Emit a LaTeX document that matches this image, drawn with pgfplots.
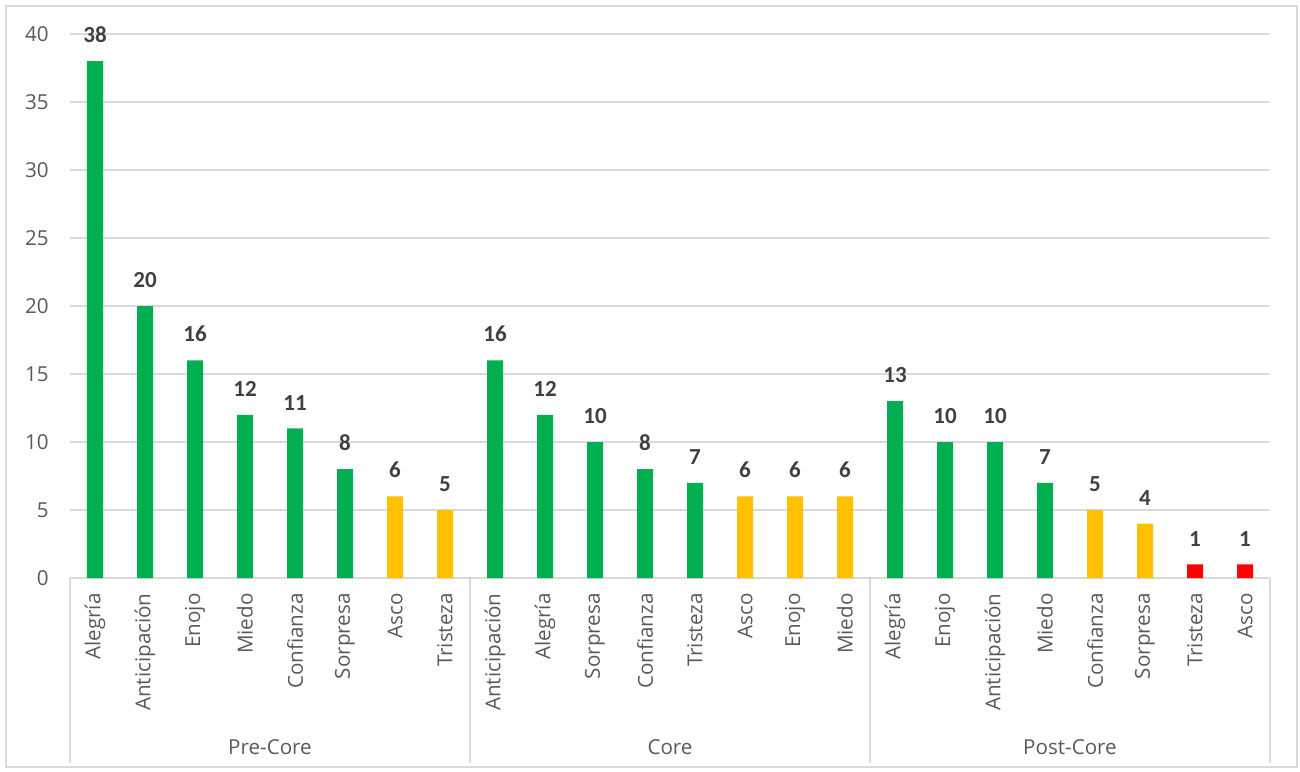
\documentclass[border=0pt]{standalone}
\usepackage{pgfplots}
\pgfplotsset{compat=1.18}
\usepackage{fontspec}
\setmainfont{Open Sans}
\newfontfamily\labelfont{Carlito}

\definecolor{bargreen}{HTML}{00B050}
\definecolor{barorange}{HTML}{FFC000}
\definecolor{barred}{HTML}{FF0000}
\definecolor{gridc}{HTML}{D9D9D9}
\definecolor{tickc}{HTML}{595959}
\definecolor{valc}{HTML}{404040}

\begin{document}
\begin{tikzpicture}
\begin{axis}[
  name=ax,
  scale only axis,
  width=600pt, height=272pt,
  xmin=0, xmax=24,
  ymin=0, ymax=40,
  /pgf/number format/assume math mode=true,
  ytick={0,5,...,40},
  xtick={0.5,1.5,...,23.5},
  xticklabels={Alegría,Anticipación,Enojo,Miedo,Confianza,Sorpresa,Asco,Tristeza,
               Anticipación,Alegría,Sorpresa,Confianza,Tristeza,Asco,Enojo,Miedo,
               Alegría,Enojo,Anticipación,Miedo,Confianza,Sorpresa,Tristeza,Asco},
  major tick length=0pt,
  ymajorgrids,
  grid style={gridc, line width=0.6pt},
  axis x line*=bottom,
  axis y line*=left,
  x axis line style={draw=gridc, line width=0.6pt, -},
  y axis line style={draw=none},
  tick label style={font=\fontsize{10.3}{12}\selectfont, text=tickc},
  yticklabel style={anchor=east, inner sep=0pt, xshift=-10.5pt},
  xticklabel style={rotate=90, anchor=east, inner sep=0pt, xshift=-7.5pt},
  ybar, bar width=8pt, bar shift=0pt,
  clip=false,
  nodes near coords,
  every node near coord/.append style={font=\labelfont\bfseries\fontsize{11.5}{13}\selectfont,
    text=valc, anchor=south, inner sep=0pt, yshift=9pt},
]
% green bars
\addplot[draw=none, fill=bargreen] coordinates {
  (0.5,38) (1.5,20) (2.5,16) (3.5,12) (4.5,11) (5.5,8)
  (8.5,16) (9.5,12) (10.5,10) (11.5,8) (12.5,7)
  (16.5,13) (17.5,10) (18.5,10) (19.5,7)};
% orange bars
\addplot[draw=none, fill=barorange] coordinates {
  (6.5,6) (7.5,5)
  (13.5,6) (14.5,6) (15.5,6)
  (20.5,5) (21.5,4)};
% red bars
\addplot[draw=none, fill=barred] coordinates {
  (22.5,1) (23.5,1)};

% group separators and group names
\foreach \s in {0,8,16,24} {
  \edef\tmp{\noexpand\draw[gridc, line width=0.6pt] (axis cs:\s,0) -- ++(0,-92.5pt);}
  \tmp
}
\node[font=\fontsize{10.3}{12}\selectfont, text=tickc] at ([yshift=-84.5pt]axis cs:4,0) {Pre-Core};
\node[font=\fontsize{10.3}{12}\selectfont, text=tickc] at ([yshift=-84.5pt]axis cs:12,0) {Core};
\node[font=\fontsize{10.3}{12}\selectfont, text=tickc] at ([yshift=-84.5pt]axis cs:20,0) {Post-Core};
\end{axis}
% chart frame
\draw[gridc, line width=0.6pt] ([xshift=-32pt,yshift=-94.5pt]ax.south west) rectangle ([xshift=13.5pt,yshift=14pt]ax.north east);
\useasboundingbox ([xshift=-35pt,yshift=-96.5pt]ax.south west) rectangle ([xshift=15pt,yshift=17pt]ax.north east);
\end{tikzpicture}
\end{document}
